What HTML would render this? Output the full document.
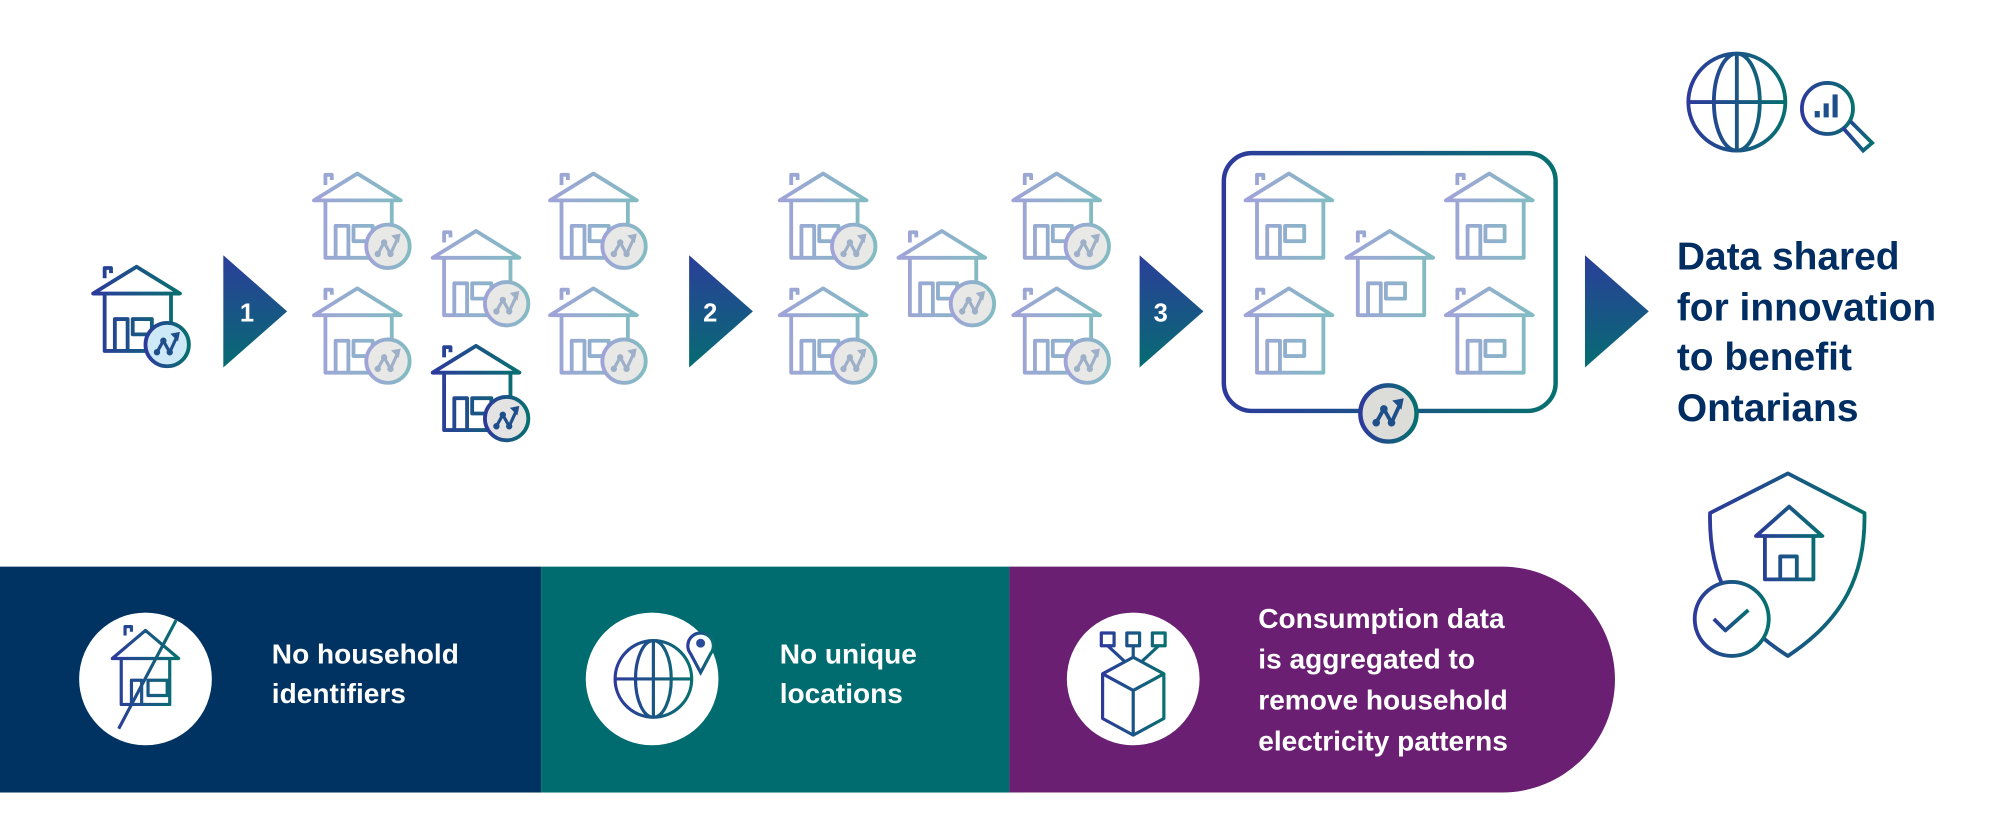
<!DOCTYPE html>
<html><head><meta charset="utf-8"><style>
html,body{margin:0;padding:0;background:#fff;}
svg{display:block;}
text{font-family:"Liberation Sans",sans-serif;}
</style></head><body>
<svg width="2001" height="834" viewBox="0 0 1568 653.5" preserveAspectRatio="none" xmlns="http://www.w3.org/2000/svg">
<defs>
<linearGradient id="chev" x1="0" y1="0" x2="0" y2="1"><stop offset="0" stop-color="#2b3e9a"/><stop offset="1" stop-color="#066c72"/></linearGradient>
<linearGradient id="dark" x1="0" y1="0" x2="1" y2="0"><stop offset="0" stop-color="#2d3a9c"/><stop offset="1" stop-color="#07706f"/></linearGradient>
<linearGradient id="fade" x1="0" y1="0" x2="1" y2="0"><stop offset="0" stop-color="#a0a3d8"/><stop offset="1" stop-color="#82bcc2"/></linearGradient>
<g id="houseF" fill="none" stroke="url(#fade)" stroke-width="3" stroke-linejoin="round">
<path d="M10 10 V2 H15 V6 M1 22 L35 1 L69 22 Z M10 22 V67 H62 V22 M18 67 V42 H28 V67 M32 42 H47 V54 H32 Z"/>
</g>
<g id="houseD" fill="none" stroke="url(#dark)" stroke-width="3" stroke-linejoin="round">
<path d="M10 10 V2 H15 V6 M1 22 L35 1 L69 22 Z M10 22 V67 H62 V22 M18 67 V42 H28 V67 M32 42 H47 V54 H32 Z"/>
</g>
<g id="chart"><path d="M-8 6 L-3 -3 L2 6 L8 -7" fill="none" stroke-width="2.5"/><path d="M4 -8 L9 -9 L8 -4 Z" stroke-width="1.5"/><circle cx="-8" cy="6" r="2"/><circle cx="-3" cy="-3" r="2"/><circle cx="2" cy="6" r="2"/></g>
<g id="hF"><use href="#houseF"/><circle cx="59" cy="58" r="17" fill="#e8e8e6" stroke="url(#fade)" stroke-width="3"/><g transform="translate(59,58)" stroke="#9eb0c8" fill="#9eb0c8"><use href="#chart"/></g></g>
<g id="hB"><use href="#houseF"/></g>
<g id="chevron"><path d="M0 0 L50 44 L0 88 Z" fill="url(#chev)"/></g>
</defs>

<g transform="translate(72,208)"><use href="#houseD"/><circle cx="59" cy="62" r="17" fill="#cde9f7" stroke="url(#dark)" stroke-width="3"/><g transform="translate(59,62)" stroke="#1f4f8a" fill="#1f4f8a"><use href="#chart"/></g></g>

<g transform="translate(175,200)"><use href="#chevron"/></g>
<text x="188" y="252" font-size="20" font-weight="bold" fill="#fff">1</text>
<g transform="translate(540,200)"><use href="#chevron"/></g>
<text x="551" y="252" font-size="20" font-weight="bold" fill="#fff">2</text>
<g transform="translate(893,200)"><use href="#chevron"/></g>
<text x="904" y="252" font-size="20" font-weight="bold" fill="#fff">3</text>
<g transform="translate(1242,200)"><use href="#chevron"/></g>

<g transform="translate(245,135)"><use href="#hF"/></g>
<g transform="translate(245,225)"><use href="#hF"/></g>
<g transform="translate(338,180)"><use href="#hF"/></g>
<g transform="translate(430,135)"><use href="#hF"/></g>
<g transform="translate(430,225)"><use href="#hF"/></g>
<g transform="translate(338,270)"><use href="#houseD"/><circle cx="59" cy="58" r="17" fill="#e3e3e3" stroke="url(#dark)" stroke-width="3"/><g transform="translate(59,58)" stroke="#1f4f8a" fill="#1f4f8a"><use href="#chart"/></g></g>

<g transform="translate(610,135)"><use href="#hF"/></g>
<g transform="translate(610,225)"><use href="#hF"/></g>
<g transform="translate(703,180)"><use href="#hF"/></g>
<g transform="translate(793,135)"><use href="#hF"/></g>
<g transform="translate(793,225)"><use href="#hF"/></g>

<rect x="959" y="120" width="260" height="202" rx="22" fill="none" stroke="url(#dark)" stroke-width="3.5"/>
<g transform="translate(975,135)"><use href="#hB"/></g>
<g transform="translate(975,225)"><use href="#hB"/></g>
<g transform="translate(1054,180)"><use href="#hB"/></g>
<g transform="translate(1132,135)"><use href="#hB"/></g>
<g transform="translate(1132,225)"><use href="#hB"/></g>
<circle cx="1088" cy="324" r="22" fill="#dcdcd8" stroke="url(#dark)" stroke-width="3.5"/>
<g transform="translate(1088,324) scale(1.2)" stroke="#1f4f8a" fill="#1f4f8a"><use href="#chart"/></g>

<g font-size="30.5" font-weight="bold" fill="#002d62">
<text x="1314" y="211">Data shared</text>
<text x="1314" y="251">for innovation</text>
<text x="1314" y="290">to benefit</text>
<text x="1314" y="330">Ontarians</text>
</g>

<g fill="none" stroke="url(#dark)" stroke-width="3">
<path d="M1323 80 A38 38 0 1 0 1399 80 A38 38 0 1 0 1323 80 M1343 80 A18 38 0 1 0 1379 80 A18 38 0 1 0 1343 80 M1361 42 V118 M1323 80 H1399"/>
<circle cx="1432" cy="85" r="20" fill="#fff"/><path d="M1444 100 L1460 118 L1467 112 L1450 95"/>
</g>
<g fill="#1f4f8a"><rect x="1422" y="87" width="4" height="5"/><rect x="1429" y="81" width="4" height="11"/><rect x="1436" y="74" width="4" height="18"/></g>

<g fill="none" stroke="url(#dark)" stroke-width="3" stroke-linejoin="round">
<path d="M1401 371 L1461 402 C1462 450 1445 485 1401 514 C1355 485 1339 450 1340 402 Z" fill="#fff"/>
<path d="M1376 420 L1402 397 L1428 420 Z M1383 420 V454 H1421 V420 M1395 454 V436 H1408 V454"/>
<circle cx="1357" cy="485" r="29" fill="#fff"/><path d="M1343 485 L1352 494 L1370 478"/>
</g>

<rect x="0" y="444" width="424" height="177" fill="#003361"/>
<rect x="424" y="444" width="367" height="177" fill="#006c70"/>
<path d="M791 444 H1177 A88.5 88.5 0 0 1 1177 621 H791 Z" fill="#6a1f72"/>

<circle cx="114" cy="532" r="52" fill="#fff"/>
<g fill="none" stroke="url(#dark)" stroke-width="2.5" stroke-linejoin="round">
<path d="M98 498 V491 H103 V495 M88 516 L114 494 L140 516 Z M95 516 V552 H133 V516 M103 552 V533 H111 V552 M116 533 H131 V545 H116 Z M93 571 L138 486"/>
</g>
<text x="213" y="520" font-size="22" font-weight="bold" fill="#fff">No household</text>
<text x="213" y="551" font-size="22" font-weight="bold" fill="#fff">identifiers</text>

<circle cx="511" cy="532" r="52" fill="#fff"/>
<g fill="none" stroke="url(#dark)" stroke-width="2.5">
<path d="M482 532 A30 30 0 1 0 542 532 A30 30 0 1 0 482 532 M498 532 A14 30 0 1 0 526 532 A14 30 0 1 0 498 532 M512 502 V562 M482 532 H542"/>
<path d="M549 527 L541 512 A10 10 0 1 1 557 512 Z" fill="#fff"/>
</g>
<circle cx="549" cy="504" r="3.5" fill="#2b4b9a"/>
<text x="611" y="520" font-size="22" font-weight="bold" fill="#fff">No unique</text>
<text x="611" y="551" font-size="22" font-weight="bold" fill="#fff">locations</text>

<circle cx="888" cy="532" r="52" fill="#fff"/>
<g fill="none" stroke="url(#dark)" stroke-width="2.5" stroke-linejoin="round">
<path d="M863 496 H873 V506 H863 Z M883 496 H893 V506 H883 Z M903 496 H913 V506 H903 Z M868 506 L882 519 M888 506 V515 M908 506 L894 519 M888 515 L912 528 L912 563 L888 576 L864 563 L864 528 Z M864 528 L888 541 L912 528 M888 541 V576"/>
</g>
<g font-size="22" font-weight="bold" fill="#fff">
<text x="986" y="492">Consumption data</text>
<text x="986" y="524">is aggregated to</text>
<text x="986" y="556">remove household</text>
<text x="986" y="588">electricity patterns</text>
</g>
</svg>
</body></html>
